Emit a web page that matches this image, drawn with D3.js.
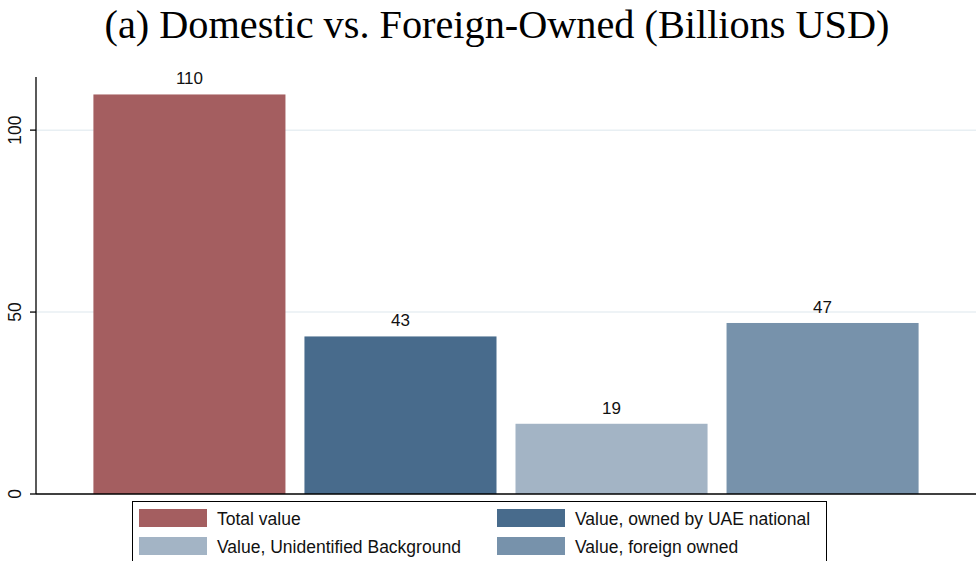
<!DOCTYPE html>
<html>
<head>
<meta charset="utf-8">
<script src="https://cdn.jsdelivr.net/npm/d3@7"></script>
<style>
  body { margin: 0; background: #fff; }
  text { font-family: "Liberation Sans", Arial, sans-serif; }
</style>
</head>
<body>
<div id="graph"></div>
<script>
var categories = ["Total value", "Value, owned by UAE national", "Value, Unidentified Background", "Value, foreign owned"];
var values = [109.8, 43.3, 19.3, 47.0];
var labels = ["110", "43", "19", "47"];
var colors = ["#a45e60", "#486b8c", "#a3b4c5", "#7792ab"];
var yTicks = [0, 50, 100];

var width = 976, height = 561;
var margin = {top: 77, left: 36, bottom: 67, right: 0};

var svg = d3.select("#graph").append("svg")
  .attr("width", width)
  .attr("height", height);

svg.append("text")
  .attr("x", 497)
  .attr("y", 38)
  .attr("text-anchor", "middle")
  .style("font-family", "'Liberation Serif', 'DejaVu Serif', serif")
  .attr("font-size", "40px")
  .attr("textLength", 785)
  .attr("lengthAdjust", "spacingAndGlyphs")
  .text("(a) Domestic vs. Foreign-Owned (Billions USD)");

var plotW = width - margin.left - margin.right;
var plotH = height - margin.top - margin.bottom;

var g = svg.append("g")
  .attr("transform", "translate(" + margin.left + "," + margin.top + ")");

var x = d3.scaleBand()
  .domain(categories)
  .range([0, plotW])
  .paddingInner(0.09)
  .paddingOuter(0.272);

var y = d3.scaleLinear()
  .domain([0, 114.6])
  .range([plotH, 0]);

// gridlines
g.selectAll(".grid")
  .data(yTicks.filter(function(d) { return d > 0; }))
  .enter().append("line")
  .attr("class", "grid")
  .attr("x1", 0)
  .attr("x2", plotW)
  .attr("y1", function(d) { return y(d); })
  .attr("y2", function(d) { return y(d); })
  .attr("stroke", "#e8eff3")
  .attr("stroke-width", 1.5);

g.selectAll(".bar")
  .data(values)
  .enter().append("rect")
  .attr("class", "bar")
  .attr("x", function(d, i) { return x(categories[i]); })
  .attr("y", function(d) { return y(d); })
  .attr("width", x.bandwidth())
  .attr("height", function(d) { return plotH - y(d); })
  .attr("fill", function(d, i) { return colors[i]; });

g.selectAll(".lbl")
  .data(values)
  .enter().append("text")
  .attr("class", "lbl")
  .attr("x", function(d, i) { return x(categories[i]) + x.bandwidth() / 2; })
  .attr("y", function(d) { return y(d) - 10; })
  .attr("text-anchor", "middle")
  .attr("font-size", "17px")
  .attr("fill", "#111")
  .text(function(d, i) { return labels[i]; });

// y axis
var yAxis = d3.axisLeft(y).tickValues(yTicks).tickSize(6).tickPadding(8);
var ya = g.append("g").call(yAxis);
ya.select(".domain").attr("d", "M0," + plotH + "V0").attr("stroke", "#000").attr("stroke-width", 1.3);
ya.selectAll(".tick line").attr("stroke", "#000").attr("stroke-width", 1.3);
ya.selectAll(".tick text")
  .attr("font-size", "17.5px")
  .attr("fill", "#111")
  .attr("text-anchor", "middle")
  .attr("transform", function(d) { return "translate(-21," + y(d) + ") rotate(-90)"; })
  .attr("x", 0)
  .attr("y", 0)
  .attr("dy", "0.35em");
ya.selectAll(".tick").attr("transform", null);
ya.selectAll(".tick line").attr("y1", function(d) { return y(d); }).attr("y2", function(d) { return y(d); });

// x baseline
g.append("line")
  .attr("x1", 0)
  .attr("x2", plotW)
  .attr("y1", plotH)
  .attr("y2", plotH)
  .attr("stroke", "#000")
  .attr("stroke-width", 1.3);

// legend
var legend = svg.append("g").attr("transform", "translate(132,501)");
legend.append("rect")
  .attr("x", 0.5)
  .attr("y", 0.5)
  .attr("width", 694)
  .attr("height", 80)
  .attr("fill", "#fff")
  .attr("stroke", "#000")
  .attr("stroke-width", 1);

var items = legend.selectAll(".item")
  .data(categories)
  .enter().append("g")
  .attr("class", "item")
  .attr("transform", function(d, i) {
    return "translate(" + (i % 2 === 0 ? 7 : 365) + "," + (i < 2 ? 8 : 36) + ")";
  });
items.append("rect")
  .attr("width", 68)
  .attr("height", 18)
  .attr("fill", function(d, i) { return colors[i]; });
items.append("text")
  .attr("x", 78)
  .attr("y", 15.5)
  .attr("font-size", "17.5px")
  .attr("fill", "#111")
  .text(function(d) { return d; });
</script>
</body>
</html>
